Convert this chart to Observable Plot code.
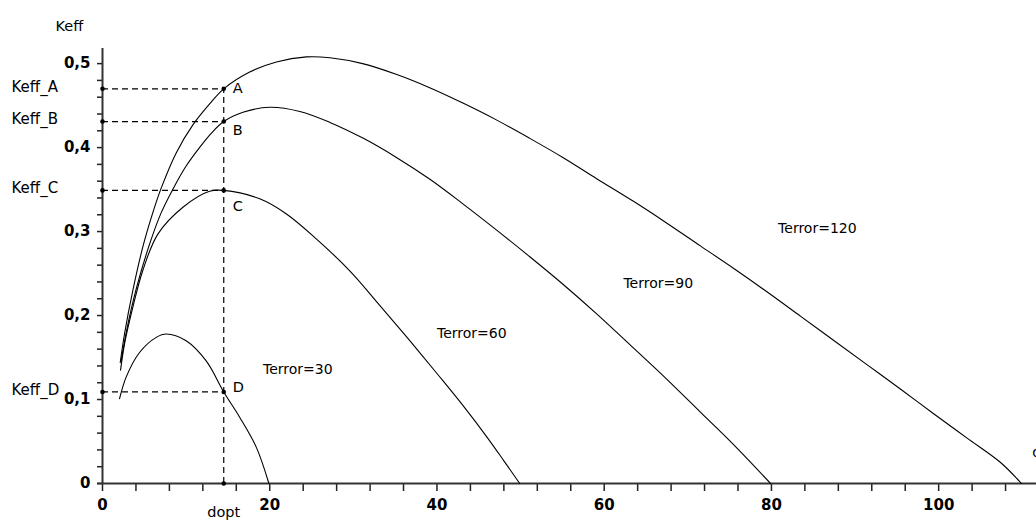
<!DOCTYPE html>
<html><head><meta charset="utf-8">
<script src="https://cdn.jsdelivr.net/npm/d3@7"></script>
<script src="https://cdn.jsdelivr.net/npm/@observablehq/plot@0.6"></script>
<style>html,body{margin:0;padding:0;background:#fff;overflow:hidden}</style>
</head><body><div id="chart"></div>
<script>
// ---- data ----
const seriesNames = ["Terror=30", "Terror=60", "Terror=90", "Terror=120"];

const d30 = [2.04, 2.84, 4.43, 6.43, 7.63, 10.0, 12.4, 14.5, 16.4, 18.4, 19.9];
const k30 = [0.101, 0.127, 0.156, 0.174, 0.178, 0.170, 0.146, 0.109, 0.079, 0.043, 0.0];

const d60 = [2.16, 2.63, 3.63, 4.83, 6.62, 9.62, 12.8, 14.5, 18.8, 22.0, 25.6, 29.6, 33.0, 36.5, 40.0, 43.1, 46.0, 48.0, 49.9];
const k60 = [0.135, 0.166, 0.210, 0.254, 0.297, 0.329, 0.348, 0.349, 0.339, 0.321, 0.291, 0.253, 0.214, 0.173, 0.131, 0.093, 0.055, 0.027, 0.0];

const d90 = [2.24, 2.84, 4.04, 5.63, 7.0, 8.5, 10.0, 11.6, 13.0, 14.5, 16.8, 20.0, 23.6, 27.2, 31.2, 35.2, 39.2, 43.1, 47.1, 51.1, 55.1, 59.1, 63.1, 67.5, 71.5, 75.5, 79.9];
const k90 = [0.146, 0.180, 0.232, 0.285, 0.322, 0.352, 0.378, 0.400, 0.417, 0.431, 0.442, 0.448, 0.443, 0.430, 0.411, 0.388, 0.362, 0.333, 0.302, 0.270, 0.237, 0.202, 0.165, 0.124, 0.085, 0.046, 0.0];

const d120 = [2.12, 2.63, 3.63, 4.83, 6.0, 7.03, 8.83, 10.81, 12.81, 14.5, 17.6, 20.8, 24.4, 27.2, 31.1, 35.2, 39.2, 43.1, 47.1, 51.1, 55.1, 59.1, 63.5, 67.5, 71.5, 75.5, 79.5, 83.5, 87.5, 91.5, 95.5, 99.4, 103.4, 107.4, 109.9];
const k120 = [0.144, 0.178, 0.230, 0.282, 0.322, 0.352, 0.394, 0.427, 0.452, 0.470, 0.490, 0.502, 0.508, 0.507, 0.500, 0.487, 0.471, 0.453, 0.433, 0.411, 0.388, 0.363, 0.336, 0.310, 0.283, 0.256, 0.228, 0.199, 0.170, 0.141, 0.112, 0.083, 0.054, 0.025, 0.0];

const dopt = 14.5;
const pointNames = ["A", "B", "C", "D"];
const keffValues = [0.470, 0.431, 0.349, 0.109];
const keffLabels = ["Keff_A", "Keff_B", "Keff_C", "Keff_D"];

// label anchors (data units)
const seriesLabelX = [19.2, 40.0, 62.3, 80.8];
const seriesLabelY = [0.136, 0.179, 0.238, 0.304];
const pointLabelY = [0.471, 0.420, 0.330, 0.115];

const xTickLabels = [0, 20, 40, 60, 80, 100];
const xTicksAll = [0, 4, 8, 12, 16, 20, 24, 28, 32, 36, 40, 44, 48, 52, 56, 60, 64, 68, 72, 76, 80, 84, 88, 92, 96, 100, 104, 108];
const yTickLabels = [0, 0.1, 0.2, 0.3, 0.4, 0.5];
const yTicksAll = [0, 0.02, 0.04, 0.06, 0.08, 0.1, 0.12, 0.14, 0.16, 0.18, 0.2, 0.22, 0.24, 0.26, 0.28, 0.3, 0.32, 0.34, 0.36, 0.38, 0.4, 0.42, 0.44, 0.46, 0.48, 0.5];

// ---- build tables ----
const curves = [[d30, k30], [d60, k60], [d90, k90], [d120, k120]];
const lineData = curves.flatMap(([ds, ks], i) => ds.map((d, j) => ({series: seriesNames[i], d, k: ks[j]})));
const seriesLabels = seriesNames.map((s, i) => ({s, x: seriesLabelX[i], y: seriesLabelY[i]}));
const pts = pointNames.map((n, i) => ({n, k: keffValues[i], ly: pointLabelY[i], lab: keffLabels[i]}));
const dots = [
  ...pts.map(p => ({x: 0, y: p.k})),
  ...pts.map(p => ({x: dopt, y: p.k})),
  {x: dopt, y: 0}
];

const isMajor = (arr, v) => arr.some(t => Math.abs(t - v) < 1e-9);
const fmtY = v => isMajor(yTickLabels, v) ? (v === 0 ? "0" : v.toFixed(1).replace(".", ",")) : "";
const fmtX = v => isMajor(xTickLabels, v) ? String(v) : "";

const chart = Plot.plot({
  width: 1036,
  height: 523,
  marginLeft: 102,
  marginRight: 0,
  marginTop: 48,
  marginBottom: 40,
  style: {fontFamily: "DejaVu Sans", background: "white", color: "black", overflow: "visible"},
  x: {domain: [0, 111.7]},
  y: {domain: [0, 0.518]},
  marks: [
    Plot.axisX({ticks: xTicksAll, tickSize: 8, tickPadding: 8, tickFormat: fmtX, label: null,
      fontSize: 15, fontWeight: "bold", stroke: "#222", strokeWidth: 1.5}),
    Plot.axisY({ticks: yTicksAll, tickSize: 5, tickPadding: 7, tickFormat: fmtY, label: null,
      fontSize: 15, fontWeight: "bold", stroke: "#222", strokeWidth: 1.5}),
    Plot.ruleX([0], {stroke: "#333", strokeWidth: 2}),
    Plot.ruleY([0], {stroke: "#333", strokeWidth: 2, x1: -0.6, x2: 111.7}),
    Plot.ruleY(pts, {y: "k", x1: 0, x2: dopt, stroke: "black", strokeWidth: 1.2, strokeDasharray: "6,4"}),
    Plot.ruleX([dopt], {y1: 0, y2: keffValues[0], stroke: "black", strokeWidth: 1.2, strokeDasharray: "6,4"}),
    Plot.line(lineData, {x: "d", y: "k", z: "series", stroke: "black", strokeWidth: 1.1, curve: "catmull-rom"}),
    Plot.dot(dots, {x: "x", y: "y", r: 2.3, fill: "black"}),
    Plot.text(pts, {x: dopt, y: "ly", text: "n", textAnchor: "start", dx: 9, fontSize: 14.5}),
    Plot.text(pts, {x: 0, y: "k", text: "lab", textAnchor: "start", dx: -91, dy: -2, fontSize: 15}),
    Plot.text(seriesLabels, {x: "x", y: "y", text: "s", textAnchor: "start", fontSize: 14}),
    Plot.text(["Keff"], {frameAnchor: "top-left", text: d => d, textAnchor: "start", dx: -47, dy: -28, fontSize: 14.5}),
    Plot.text(["dopt"], {x: dopt, y: 0, text: d => d, dy: 29, fontSize: 14.5}),
    Plot.text(["d"], {x: 111.2, y: 0.037, text: d => d, textAnchor: "start", fontSize: 14})
  ]
});
document.getElementById("chart").appendChild(chart);
</script>
</body></html>
